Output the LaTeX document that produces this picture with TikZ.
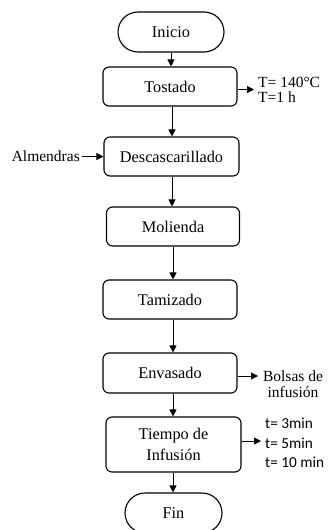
\documentclass[tikz,border=0pt]{standalone}
\usepackage{fontspec}
\setmainfont{Liberation Serif}
\newfontfamily\calib{Carlito}
\usetikzlibrary{arrows.meta}
\begin{document}
\begin{tikzpicture}[x=1pt,y=-1pt,
  procbox/.style={draw,line width=1.1pt,rounded corners=6pt,inner sep=0pt,
    minimum width=134pt,minimum height=39pt,font=\fontsize{16.3}{21}\selectfont,align=center},
  termbox/.style={draw,line width=1.1pt,rounded corners=20pt,inner sep=0pt,
    minimum width=106pt,minimum height=40pt,font=\fontsize{16.3}{21}\selectfont},
  sidetext/.style={inner sep=0pt,font=\fontsize{15.5}{16}\selectfont},
  flow/.style={line width=0.9pt,-{Triangle[length=7pt,width=7pt]}}]
\useasboundingbox (0,0) rectangle (327,530);
\clip (0,0) rectangle (327,530);
\fill[white] (0,0) rectangle (327,530);
\node[termbox] (inicio) at (171,32) {Inicio};
\node[procbox] (tostado) at (170,86.5) {Tostado};
\node[procbox,minimum width=135pt] (desc) at (171.5,156.5) {Descascarillado};
\node[procbox,minimum width=133pt] (molienda) at (173,226.5) {Molienda};
\node[procbox] (tamizado) at (170,299.5) {Tamizado};
\node[procbox,minimum height=40pt] (envasado) at (170,373) {Envasado};
\node[procbox,minimum width=135pt,minimum height=55pt] (tiempo) at (173.5,444.5) {Tiempo de\\Infusión};
\node[termbox,minimum width=97pt] (fin) at (173.5,513) {Fin};
% side texts
\node[sidetext,anchor=west,align=left,font=\fontsize{15.5}{15}\selectfont] (tcond) at (258,89.5) {T= 140°C\\T=1 h};
\node[sidetext,anchor=east] (almendras) at (80,156.5) {Almendras};
\node[sidetext,align=center,font=\fontsize{15.5}{16}\selectfont] (bolsas) at (293,384) {Bolsas de\\infusión};
\coordinate (bolsasin) at (258,376);
\node[sidetext,anchor=west,align=left,font=\calib\fontsize{15.3}{19.5}\selectfont] (tiempos) at (265,443) {t= 3min\\t= 5min\\t= 10 min};
\coordinate (tiemposin) at (261,441);
% main flow
\draw[flow] (inicio.south -| 171,0) -- (tostado.north -| 171,0);
\draw[flow] (tostado.south -| 172,0) -- (desc.north -| 172,0);
\draw[flow] (desc.south -| 172,0) -- (molienda.north -| 172,0);
\draw[flow] (molienda.south -| 173,0) -- (tamizado.north -| 173,0);
\draw[flow] (tamizado.south -| 173,0) -- (envasado.north -| 173,0);
\draw[flow] (envasado.south -| 173,0) -- (tiempo.north -| 173,0);
\draw[flow] (tiempo.south -| 173,0) -- (fin.north -| 173,0);
% side arrows
\draw[flow] (tostado.east |- tcond.west) -- ([xshift=-4pt]tcond.west);
\draw[flow] ([xshift=2pt]almendras.east) -- (desc.west);
\draw[flow] (envasado.east |- bolsasin) -- (bolsasin);
\draw[flow] (tiempo.east |- tiemposin) -- (tiemposin);
\end{tikzpicture}
\end{document}
